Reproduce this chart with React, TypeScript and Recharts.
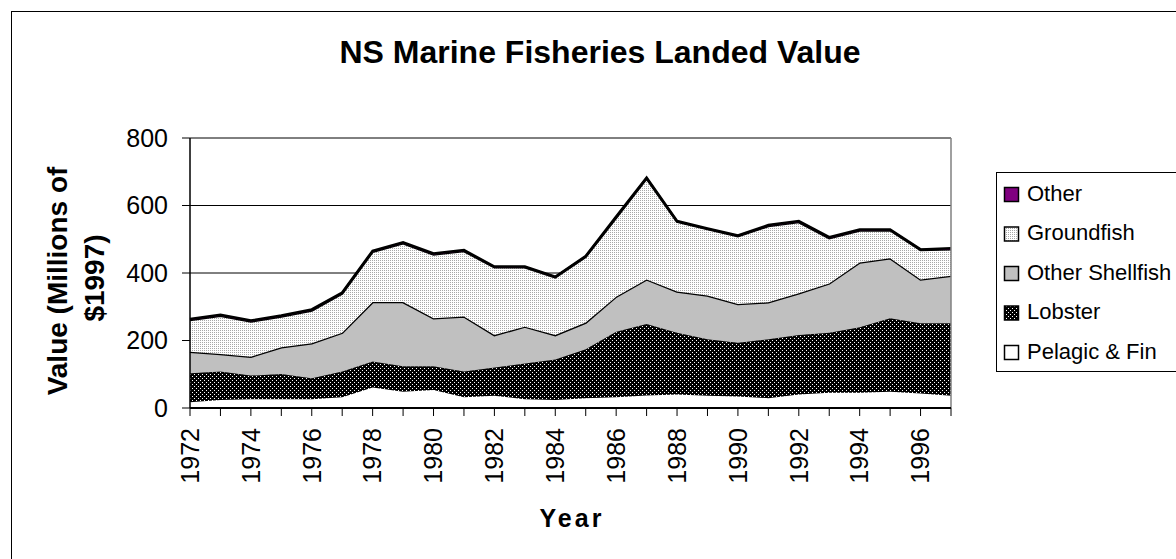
import { Area, AreaChart, CartesianGrid, ReferenceLine, XAxis, YAxis } from 'recharts'

const FONT = '"Liberation Sans", Arial, Helvetica, sans-serif'

// landed value by species group, millions of 1997 dollars
const years = [
  1972, 1973, 1974, 1975, 1976, 1977, 1978, 1979, 1980, 1981, 1982, 1983, 1984,
  1985, 1986, 1987, 1988, 1989, 1990, 1991, 1992, 1993, 1994, 1995, 1996, 1997,
]
const pelagicFin = [17, 24, 26, 26, 26, 32, 61, 48, 53, 32, 36, 26, 24, 29, 32, 37, 40, 36, 34, 29, 40, 45, 45, 48, 43, 36]
const lobster = [86, 84, 70, 75, 62, 76, 77, 76, 71, 76, 84, 106, 120, 145, 194, 212, 183, 168, 159, 175, 176, 178, 194, 218, 208, 215]
const otherShellfish = [64, 52, 56, 79, 104, 115, 176, 190, 142, 163, 96, 109, 72, 79, 104, 132, 122, 129, 115, 109, 124, 146, 192, 178, 130, 141]
const groundfish = [94, 113, 104, 91, 97, 116, 149, 174, 189, 194, 201, 176, 171, 195, 234, 299, 207, 197, 201, 226, 211, 134, 95, 83, 87, 78]
const other = [3, 3, 3, 3, 3, 3, 3, 3, 3, 3, 2, 2, 2, 2, 3, 3, 2, 2, 2, 3, 3, 3, 3, 2, 2, 3]

const yTicks = [0, 200, 400, 600, 800]

const data = years.map((year, i) => ({
  year,
  pelagicFin: pelagicFin[i],
  lobster: lobster[i],
  otherShellfish: otherShellfish[i],
  groundfish: groundfish[i],
  other: other[i],
}))

const legendItems = [
  { name: 'Other', fill: '#800080' },
  { name: 'Groundfish', fill: 'url(#groundfishDots)' },
  { name: 'Other Shellfish', fill: '#c0c0c0' },
  { name: 'Lobster', fill: 'url(#lobsterDots)' },
  { name: 'Pelagic & Fin', fill: '#ffffff' },
]

function YearTick(props: any) {
  const { x, y, payload } = props
  if (payload.value % 2 !== 0) return <g />
  return (
    <text
      transform={`translate(${x},${y}) rotate(-90)`}
      textAnchor="end"
      dy="0.35em"
      fontSize={25}
      fontFamily={FONT}
      fill="#000"
    >
      {payload.value}
    </text>
  )
}

export default function App() {
  return (
    <div style={{ position: 'relative', width: 1176, height: 559, overflow: 'hidden', background: '#fff' }}>
      <style>{'body{margin:0}'}</style>
      <AreaChart
        width={1176}
        height={559}
        data={data}
        margin={{ top: 138, right: 225, bottom: 71, left: 90 }}
      >
        <defs>
          <pattern id="lobsterDots" width="4" height="4" patternUnits="userSpaceOnUse">
            <rect width="4" height="4" fill="#000" />
            <rect x="0" y="0" width="1" height="1" fill="#fff" shapeRendering="crispEdges" />
            <rect x="2" y="2" width="1" height="1" fill="#fff" shapeRendering="crispEdges" />
          </pattern>
          <pattern id="groundfishDots" width="2" height="2" patternUnits="userSpaceOnUse">
            <rect width="2" height="2" fill="#fff" />
            <rect x="0" y="0" width="1" height="1" fill="#a8a8a8" shapeRendering="crispEdges" />
          </pattern>
        </defs>
        <CartesianGrid vertical={false} stroke="#000" strokeWidth={1} />
        <XAxis
          dataKey="year"
          interval={0}
          tick={YearTick}
          tickSize={8}
          tickMargin={12}
          height={80}
          axisLine={{ stroke: '#000', strokeWidth: 2 }}
          tickLine={{ stroke: '#000' }}
        />
        <YAxis
          domain={[0, 800]}
          ticks={yTicks}
          width={100}
          tickSize={8}
          tickMargin={14}
          axisLine={{ stroke: '#000', strokeWidth: 1.5 }}
          tickLine={{ stroke: '#000' }}
          tick={{ fill: '#000', fontSize: 25, fontFamily: FONT }}
        />
        <Area
          type="linear"
          dataKey="pelagicFin"
          name="Pelagic & Fin"
          stackId="v"
          fill="#fff"
          fillOpacity={1}
          stroke="none"
          isAnimationActive={false}
          activeDot={false}
        />
        <Area
          type="linear"
          dataKey="lobster"
          name="Lobster"
          stackId="v"
          fill="url(#lobsterDots)"
          fillOpacity={1}
          stroke="#000"
          strokeWidth={1}
          isAnimationActive={false}
          activeDot={false}
        />
        <Area
          type="linear"
          dataKey="otherShellfish"
          name="Other Shellfish"
          stackId="v"
          fill="#c0c0c0"
          fillOpacity={1}
          stroke="#000"
          strokeWidth={2.5}
          isAnimationActive={false}
          activeDot={false}
        />
        <Area
          type="linear"
          dataKey="groundfish"
          name="Groundfish"
          stackId="v"
          fill="url(#groundfishDots)"
          fillOpacity={1}
          stroke="#000"
          strokeWidth={2.5}
          isAnimationActive={false}
          activeDot={false}
        />
        <Area
          type="linear"
          dataKey="other"
          name="Other"
          stackId="v"
          fill="#800080"
          fillOpacity={1}
          stroke="#000"
          strokeWidth={2.5}
          isAnimationActive={false}
          activeDot={false}
        />
        <ReferenceLine x={1997} stroke="#808080" strokeWidth={1.5} />
      </AreaChart>

      {/* title, axis titles, legend and chart frame */}
      <svg
        width={1176}
        height={559}
        style={{ position: 'absolute', left: 0, top: 0, pointerEvents: 'none' }}
        fontFamily={FONT}
      >
        <rect x={11.5} y={11.5} width={1300} height={700} fill="none" stroke="#000" strokeWidth={1} />
        <text x={600} y={63} textAnchor="middle" fontSize={32} fontWeight="bold" fill="#000">
          NS Marine Fisheries Landed Value
        </text>
        <text transform="translate(67,281) rotate(-90)" textAnchor="middle" fontSize={28} fontWeight="bold" fill="#000">
          Value (Millions of
        </text>
        <text transform="translate(104,278) rotate(-90)" textAnchor="middle" fontSize={28} fontWeight="bold" fill="#000">
          $1997)
        </text>
        <text x={572} y={527} textAnchor="middle" fontSize={25} fontWeight="bold" letterSpacing={3} fill="#000">
          Year
        </text>

        <rect x={996.5} y={172.5} width={300} height={199} fill="#fff" stroke="#000" strokeWidth={1} />
        {legendItems.map((item, i) => {
          const base = 200.5 + i * 39.5
          return (
            <g key={item.name}>
              <rect x={1004.5} y={base - 13} width={14} height={14} fill={item.fill} stroke="#000" strokeWidth={1.5} />
              <text x={1027} y={base} fontSize={22} fill="#000">
                {item.name}
              </text>
            </g>
          )
        })}
      </svg>
    </div>
  )
}
